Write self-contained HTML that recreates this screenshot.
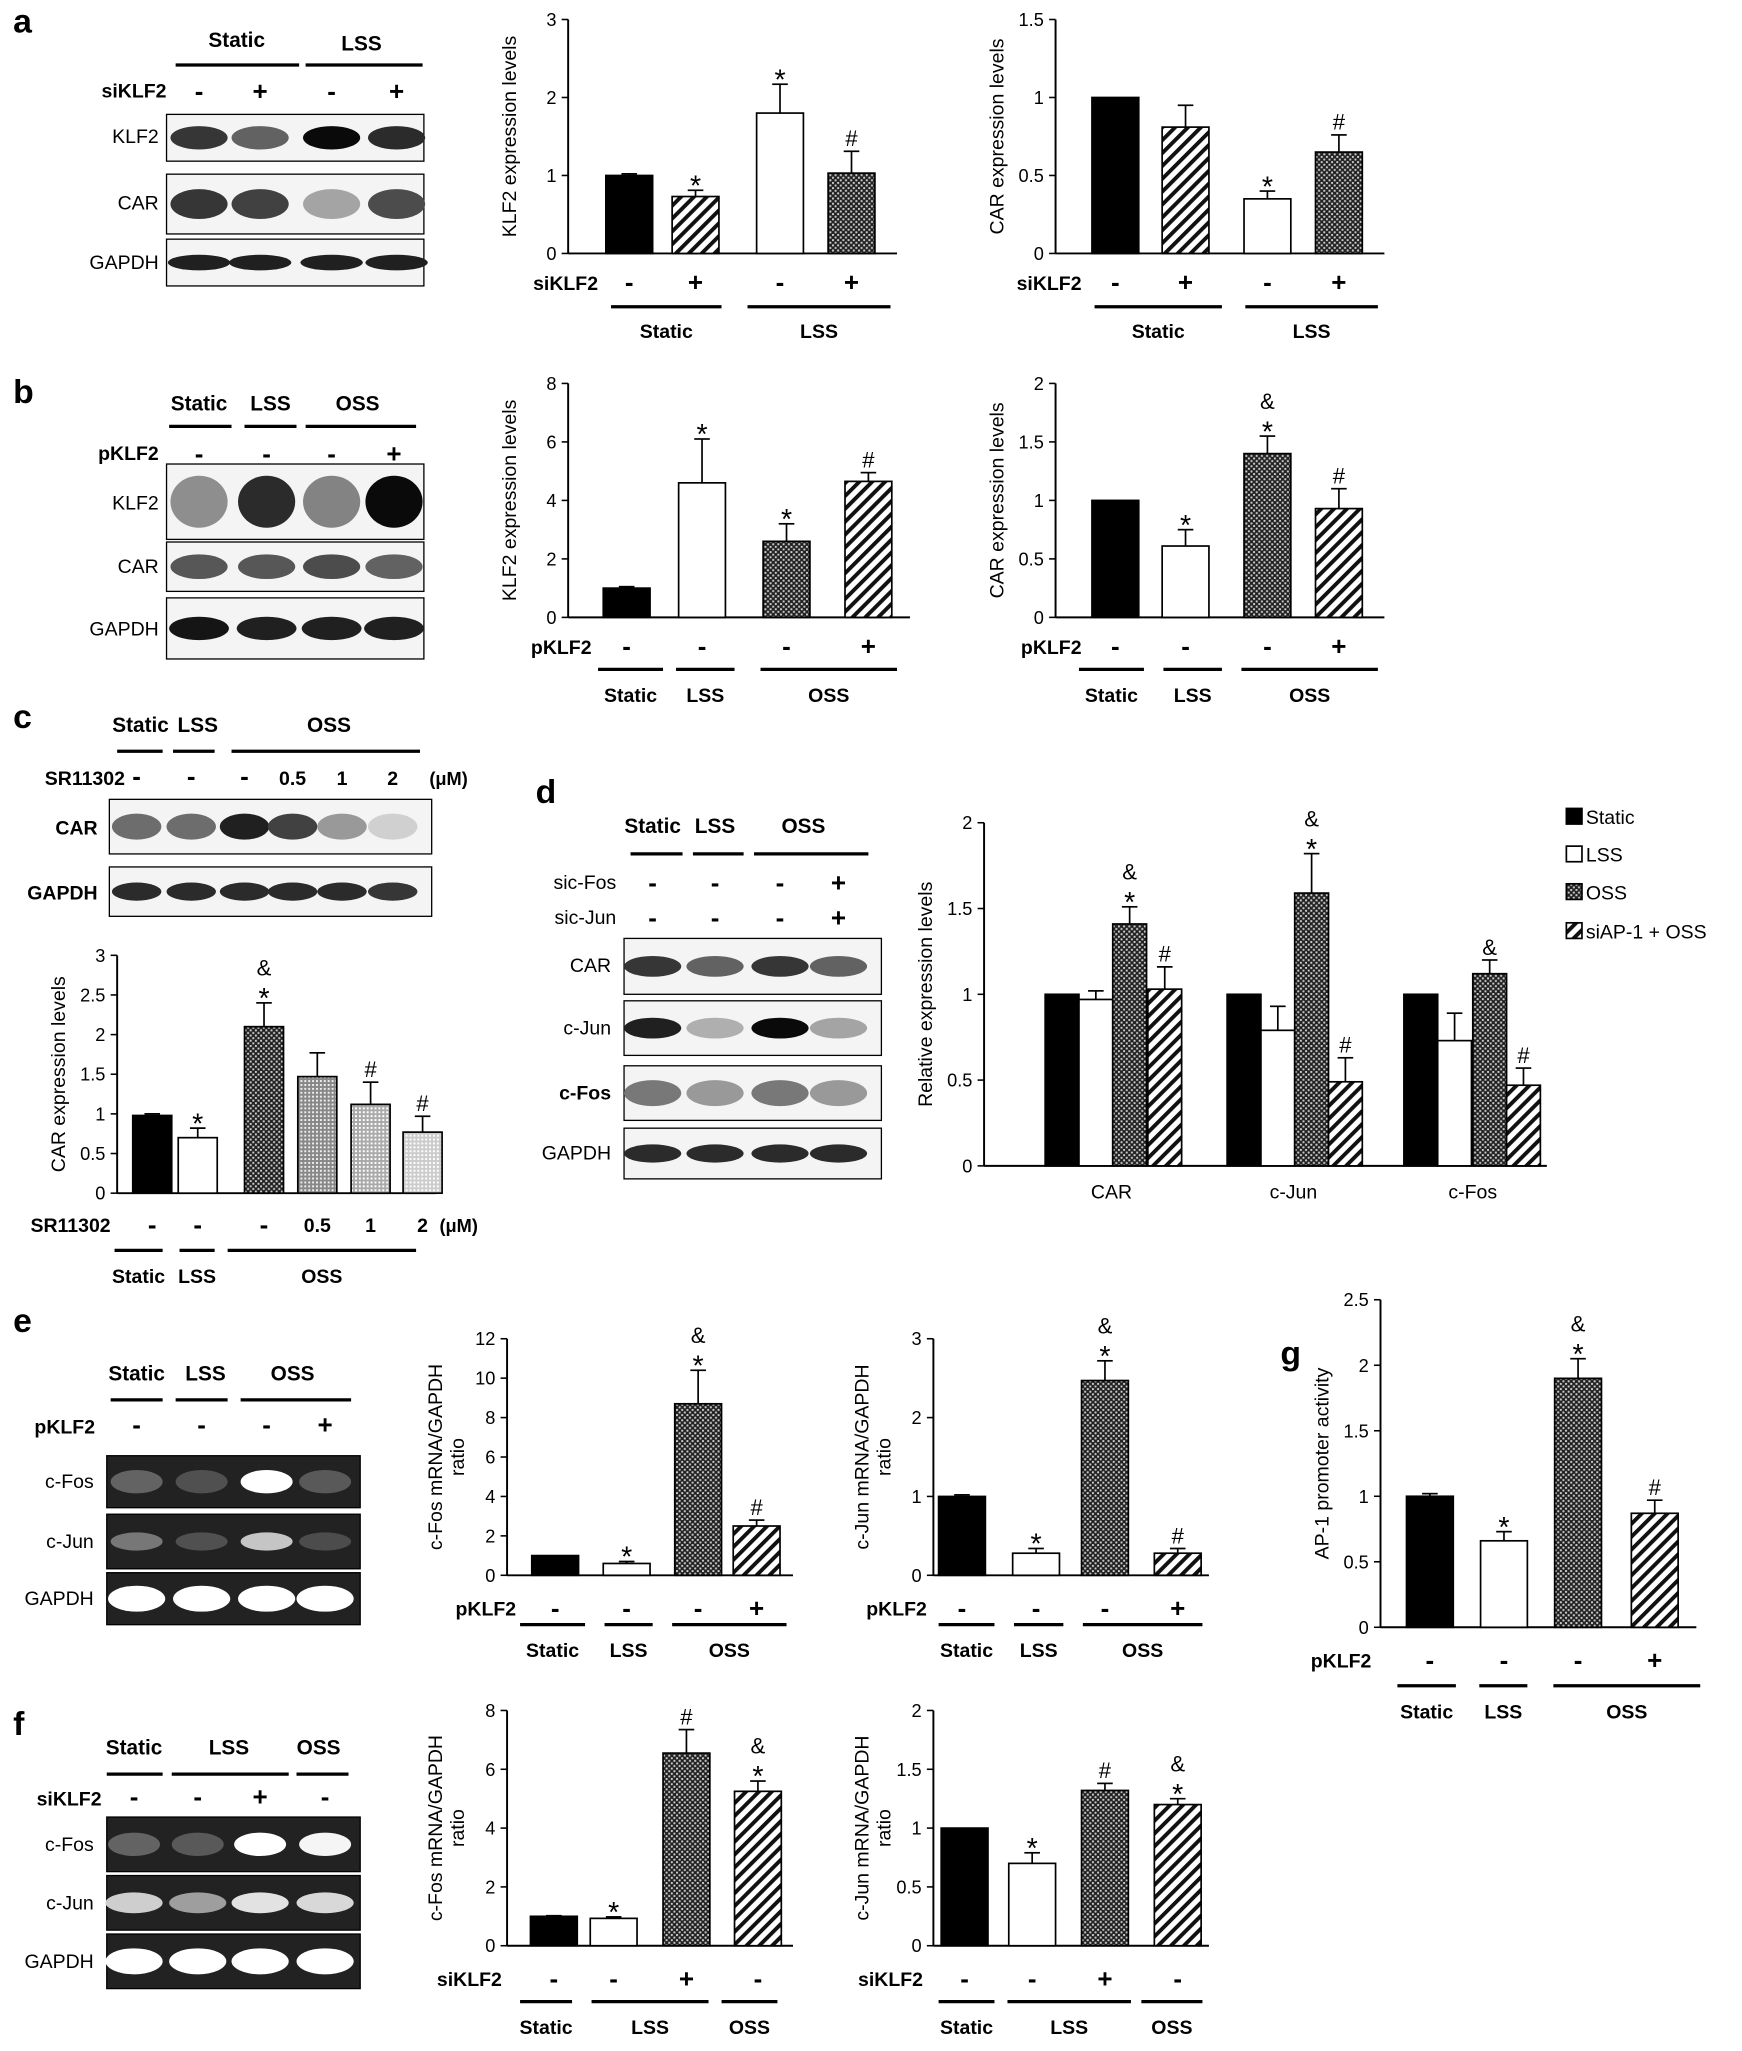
<!DOCTYPE html>
<html><head><meta charset="utf-8"><style>html,body{margin:0;padding:0;background:#fff}svg{display:block}text{font-family:"Liberation Sans",Arial,sans-serif}</style></head>
<body>
<svg id="s" xmlns="http://www.w3.org/2000/svg" width="1742" height="2051" viewBox="0 0 1340 1578">
<defs>
<pattern id="hatch" width="7" height="7" patternUnits="userSpaceOnUse" patternTransform="rotate(45)"><rect width="7" height="7" fill="#fff"/><rect width="3" height="7" fill="#111"/></pattern>
<pattern id="dots" width="4" height="4" patternUnits="userSpaceOnUse"><rect width="4" height="4" fill="#222"/><rect x="0" y="0" width="1.5" height="1.5" fill="#ccc"/><rect x="2" y="2" width="1.5" height="1.5" fill="#ccc"/></pattern>
<pattern id="g1" width="3" height="3" patternUnits="userSpaceOnUse"><rect width="3" height="3" fill="#888"/><rect width="1.5" height="1.5" fill="#eee"/></pattern>
<pattern id="g2" width="3" height="3" patternUnits="userSpaceOnUse"><rect width="3" height="3" fill="#aaa"/><rect width="1.5" height="1.5" fill="#fff"/></pattern>
<pattern id="g3" width="3" height="3" patternUnits="userSpaceOnUse"><rect width="3" height="3" fill="#ccc"/><rect width="1.5" height="1.5" fill="#fff"/></pattern>
</defs>
</svg>
<script>
var s=document.getElementById('s'),o='';
function T(x,y,t,sz,a,w,extra){o+='<text x="'+x+'" y="'+y+'" font-size="'+(sz||15)+'" text-anchor="'+(a||'middle')+'" font-weight="'+(w||'bold')+'" '+(extra||'')+'>'+t+'</text>';}
function L(x1,y1,x2,y2,w){o+='<line x1="'+x1+'" y1="'+y1+'" x2="'+x2+'" y2="'+y2+'" stroke="#000" stroke-width="'+(w||1.5)+'"/>';}
function R(x,y,w,h,f,st){o+='<rect x="'+x+'" y="'+y+'" width="'+w+'" height="'+h+'" fill="'+f+'"'+(st?' stroke="#000" stroke-width="1.3"':'')+'/>';}
var F={k:'#000',w:'#fff',h:'url(#hatch)',d:'url(#dots)',g1:'url(#g1)',g2:'url(#g2)',g3:'url(#g3)'};
function chart(ax,yt,yb,max,step,dec,xr,bars,bw,ylab){
 L(ax,yt,ax,yb);L(ax,yb,xr,yb);
 for(var v=0;v<=max+1e-9;v+=step){var y=yb-(yb-yt)*v/max;L(ax-5,y,ax,y,1.2);T(ax-9,y+5,(+v.toFixed(dec)).toString(),14,'end','normal');}
 bars.forEach(function(b){var x=b[0],v=b[1],e=b[2],f=b[3],an=b[4]||'';var y=yb-(yb-yt)*v/max;R(x-bw/2,y,bw,yb-y,F[f],1);
  var ye=y;if(e){ye=yb-(yb-yt)*(v+e)/max;L(x,y,x,ye,1.3);L(x-6,ye,x+6,ye,1.3);}
  var yy=ye-4;for(var i=an.length-1;i>=0;i--){var c=an[i];T(x,c=='*'?yy+8:yy,c,c=='*'?22:17,'middle','normal');yy-=17;}
 });
 if(typeof ylab=='string')ylab=[ylab];
 ylab.forEach(function(l,i){var off=ylab.length==2?(i==0?-50:-33):-40;
 T(0,0,l,15,'middle','normal','transform="translate('+(ax+off)+','+((yt+yb)/2)+') rotate(-90)"');});
}
function under(lab,lx,y1,xs,sg,y2,grp,y3){T(lx,y1+5,lab,15,'end');xs.forEach(function(x,i){T(x,y1+6,sg[i],20,'middle','bold');});
 grp.forEach(function(g){L(g[0],y2,g[1],y2,2.5);T((g[0]+g[1])/2,y3,g[2],15);});}
function blot(x,y,w,h,lanes,ints,dark,bw,bh){R(x,y,w,h,dark?'#222':'#f4f4f4');o+='<rect x="'+x+'" y="'+y+'" width="'+w+'" height="'+h+'" fill="none" stroke="#000" stroke-width="1"/>';
 lanes.forEach(function(lx,i){var v=ints[i];var c=dark?'rgb('+Math.round(60+195*v)+','+Math.round(60+195*v)+','+Math.round(60+195*v)+')':'rgb('+Math.round(230-220*v)+','+Math.round(230-220*v)+','+Math.round(230-220*v)+')';
 o+='<ellipse cx="'+lx+'" cy="'+(y+h/2)+'" rx="'+(bw||24)+'" ry="'+(bh||h*0.25)+'" fill="'+c+'"/>';});}
[['a',10,25],['b',10,310],['c',10,560],['d',412,618],['e',10,1025],['f',10,1335],['g',985,1050]].forEach(function(p){T(p[1],p[2],p[0],26,'start','bold');});
// a blot
var la=[153,200,255,305];
T(182,36,'Static',16);T(278,39,'LSS',16);L(135,50,230,50,2.5);L(235,50,325,50,2.5);
T(128,75,'siKLF2',15,'end');la.forEach(function(x,i){T(x,77,['-','+','-','+'][i],20);});
blot(128,88,198,36,la,[.8,.6,1,.85],0,22);T(122,110,'KLF2',15,'end','normal');
blot(128,134,198,46,la,[.8,.75,.3,.7],0,22);T(122,161,'CAR',15,'end','normal');
blot(128,184,198,36,la,[.9,.9,.9,.9],0,24,6);T(122,207,'GAPDH',15,'end','normal');
// b blot
var lb=[153,205,255,303];
T(153,316,'Static',16);T(208,316,'LSS',16);T(275,316,'OSS',16);L(130,328,178,328,2.5);L(188,328,228,328,2.5);L(235,328,320,328,2.5);
T(122,354,'pKLF2',15,'end');lb.forEach(function(x,i){T(x,356,['-','-','-','+'][i],20);});
blot(128,357,198,58,lb,[.4,.85,.45,1],0,22,20);T(122,392,'KLF2',15,'end','normal');
blot(128,417,198,38,lb,[.65,.65,.7,.6],0,22);T(122,441,'CAR',15,'end','normal');
blot(128,460,198,47,lb,[.95,.9,.9,.9],0,23,9);T(122,489,'GAPDH',15,'end','normal');
// c blot
var lc=[105,147,188,225,263,302];
T(108,563,'Static',16);T(152,563,'LSS',16);T(253,563,'OSS',16);L(90,578,125,578,2.5);L(133,578,165,578,2.5);L(178,578,323,578,2.5);
T(96,604,'SR11302',15,'end');lc.forEach(function(x,i){T(x,604,['-','-','-','0.5','1','2'][i],i>2?15:20);});T(345,604,'(μM)',14);
blot(84,615,248,42,lc,[.55,.55,.9,.75,.35,.1],0,19,10);T(75,642,'CAR',15,'end');
blot(84,667,248,38,lc,[.85,.85,.85,.85,.85,.8],0,19,7);T(75,692,'GAPDH',15,'end');
// d blot
var ld=[502,550,600,645];
T(502,641,'Static',16);T(550,641,'LSS',16);T(618,641,'OSS',16);L(485,657,525,657,2.5);L(533,657,572,657,2.5);L(580,657,668,657,2.5);
T(474,684,'sic-Fos',15,'end','normal');T(474,711,'sic-Jun',15,'end','normal');ld.forEach(function(x,i){T(x,686,['-','-','-','+'][i],20);T(x,713,['-','-','-','+'][i],20);});
blot(480,722,198,43,ld,[.8,.6,.8,.6],0,22,8);T(470,748,'CAR',15,'end','normal');
blot(480,770,198,42,ld,[.9,.25,1,.3],0,22,8);T(470,796,'c-Jun',15,'end','normal');
blot(480,820,198,42,ld,[.5,.35,.5,.35],0,22,10);T(470,846,'c-Fos',15,'end','bold');
blot(480,868,198,39,ld,[.85,.85,.85,.85],0,22,7);T(470,892,'GAPDH',15,'end','normal');
// e blot
var le=[105,155,205,250];
T(105,1062,'Static',16);T(158,1062,'LSS',16);T(225,1062,'OSS',16);L(85,1077,125,1077,2.5);L(135,1077,175,1077,2.5);L(185,1077,270,1077,2.5);
T(73,1103,'pKLF2',15,'end');le.forEach(function(x,i){T(x,1103,['-','-','-','+'][i],20);});
blot(82,1120,195,40,le,[.2,.1,1,.15],1,20,9);T(72,1145,'c-Fos',15,'end','normal');
blot(82,1165,195,42,le,[.3,.1,.7,.08],1,20,7);T(72,1191,'c-Jun',15,'end','normal');
blot(82,1210,195,40,le,[1,1,1,1],1,22,10);T(72,1235,'GAPDH',15,'end','normal');
// f blot
var lf=[103,152,200,250];
T(103,1350,'Static',16);T(176,1350,'LSS',16);T(245,1350,'OSS',16);L(82,1365,125,1365,2.5);L(132,1365,222,1365,2.5);L(228,1365,268,1365,2.5);
T(78,1389,'siKLF2',15,'end');lf.forEach(function(x,i){T(x,1389,['-','-','+','-'][i],20);});
blot(82,1398,195,42,lf,[.2,.15,1,.95],1,20,9);T(72,1424,'c-Fos',15,'end','normal');
blot(82,1443,195,42,lf,[.75,.5,.85,.8],1,22,8);T(72,1469,'c-Jun',15,'end','normal');
blot(82,1488,195,42,lf,[1,1,1,1],1,22,10);T(72,1514,'GAPDH',15,'end','normal');
// charts
var A=[484,535,600,655];
chart(437,15,195,3,1,0,690,[[A[0],1,.02,'k'],[A[1],.73,.08,'h','*'],[A[2],1.8,.37,'w','*'],[A[3],1.03,.28,'d','#']],36,'KLF2 expression levels');
under('siKLF2',460,218,A,['-','+','-','+'],236,[[470,555,'Static'],[575,685,'LSS']],260);
var B=[858,912,975,1030];
chart(812,15,195,1.5,.5,1,1065,[[B[0],1,0,'k'],[B[1],.81,.14,'h'],[B[2],.35,.05,'w','*'],[B[3],.65,.11,'d','#']],36,'CAR expression levels');
under('siKLF2',832,218,B,['-','+','-','+'],236,[[842,940,'Static'],[958,1060,'LSS']],260);
var C=[482,540,605,668];
chart(437,295,475,8,2,0,700,[[C[0],1,.05,'k'],[C[1],4.6,1.5,'w','*'],[C[2],2.6,.6,'d','*'],[C[3],4.65,.3,'h','#']],36,'KLF2 expression levels');
under('pKLF2',455,498,C,['-','-','-','+'],515,[[460,510,'Static'],[520,565,'LSS'],[585,690,'OSS']],540);
chart(812,295,475,2,.5,1,1065,[[B[0],1,0,'k'],[B[1],.61,.14,'w','*'],[B[2],1.4,.15,'d','&*'],[B[3],.93,.17,'h','#']],36,'CAR expression levels');
under('pKLF2',832,498,B,['-','-','-','+'],515,[[830,880,'Static'],[895,940,'LSS'],[955,1060,'OSS']],540);
var D=[117,152,203,244,285,325];
chart(90,735,918,3,.5,1,335,[[D[0],.98,.02,'k'],[D[1],.7,.12,'w','*'],[D[2],2.1,.3,'d','&*'],[D[3],1.47,.3,'g1'],[D[4],1.12,.28,'g2','#'],[D[5],.77,.2,'g3','#']],30,'CAR expression levels');
under('SR11302',85,943,D,['-','-','-','','',''],962,[[88,125,'Static'],[138,165,'LSS'],[175,320,'OSS']],987);
T(244,948,'0.5',15);T(285,948,'1',15);T(325,948,'2',15);T(338,948,'(μM)',14,'start');
chart(757,633,897,2,.5,1,1190,[[817,1,0,'k'],[843,.97,.05,'w'],[869,1.41,.1,'d','&*'],[896,1.03,.13,'h','#'],[957,1,0,'k'],[983,.79,.14,'w'],[1009,1.59,.23,'d','&*'],[1035,.49,.14,'h','#'],[1093,1,0,'k'],[1119,.73,.16,'w'],[1146,1.12,.08,'d','&'],[1172,.47,.1,'h','#']],26,'Relative expression levels');
T(855,922,'CAR',15,'middle','normal');T(995,922,'c-Jun',15,'middle','normal');T(1133,922,'c-Fos',15,'middle','normal');
[['k','Static',628],['w','LSS',657],['d','OSS',686],['h','siAP-1 + OSS',716]].forEach(function(l){R(1205,l[2]-6,12,12,F[l[0]],1);T(1220,l[2]+6,l[1],15,'start','normal');});
var E=[427,482,537,582];
chart(390,1030,1212,12,2,0,610,[[E[0],1,0,'k'],[E[1],.6,.1,'w','*'],[E[2],8.7,1.7,'d','&*'],[E[3],2.5,.3,'h','#']],36,['c-Fos mRNA/GAPDH','ratio']);
under('pKLF2',397,1238,E,['-','-','-','+'],1250,[[400,450,'Static'],[465,502,'LSS'],[517,605,'OSS']],1275);
var G=[740,797,850,906];
chart(718,1030,1212,3,1,0,930,[[G[0],1,.02,'k'],[G[1],.28,.06,'w','*'],[G[2],2.47,.25,'d','&*'],[G[3],.28,.06,'h','#']],36,['c-Jun mRNA/GAPDH','ratio']);
under('pKLF2',713,1238,G,['-','-','-','+'],1250,[[722,765,'Static'],[780,818,'LSS'],[833,925,'OSS']],1275);
var H=[1100,1157,1214,1273];
chart(1062,1000,1252,2.5,.5,1,1305,[[H[0],1,.02,'k'],[H[1],.66,.07,'w','*'],[H[2],1.9,.15,'d','&*'],[H[3],.87,.1,'h','#']],36,'AP-1 promoter activity');
under('pKLF2',1055,1278,H,['-','-','-','+'],1297,[[1075,1120,'Static'],[1138,1175,'LSS'],[1195,1308,'OSS']],1322);
var I=[426,472,528,583];
chart(390,1316,1497,8,2,0,610,[[I[0],1,.02,'k'],[I[1],.93,.05,'w','*'],[I[2],6.55,.8,'d','#'],[I[3],5.25,.35,'h','&*']],36,['c-Fos mRNA/GAPDH','ratio']);
under('siKLF2',386,1523,I,['-','-','+','-'],1540,[[400,440,'Static'],[455,545,'LSS'],[555,598,'OSS']],1565);
var J=[742,794,850,906];
chart(718,1316,1497,2,.5,1,930,[[J[0],1,0,'k'],[J[1],.7,.09,'w','*'],[J[2],1.32,.06,'d','#'],[J[3],1.2,.05,'h','&*']],36,['c-Jun mRNA/GAPDH','ratio']);
under('siKLF2',710,1523,J,['-','-','+','-'],1540,[[722,765,'Static'],[775,870,'LSS'],[878,925,'OSS']],1565);
s.innerHTML+=o;
</script>
</body></html>
